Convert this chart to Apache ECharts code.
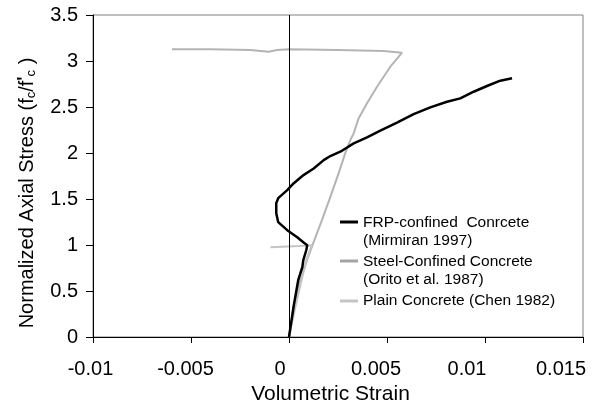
<!DOCTYPE html>
<html>
<head>
<meta charset="utf-8">
<script src="https://cdn.jsdelivr.net/npm/echarts@6/dist/echarts.min.js"></script>
<style>
  html, body { margin: 0; padding: 0; background: #fff; }
  #chart { width: 595px; height: 405px; }
</style>
</head>
<body>
<div id="chart"></div>
<script>
// Volumetric strain vs. normalized axial stress for three confinement cases
const seriesNames = [
  'FRP-confined  Conrcete\n(Mirmiran 1997)',
  'Steel-Confined Concrete\n(Orito et al. 1987)',
  'Plain Concrete (Chen 1982)'
];

// FRP-confined concrete (Mirmiran 1997): [volumetric strain, fc/f'c]
const frpStrain = [0, 0.00025, 0.00047, 0.00058, 0.00068, 0.00073, 0.00088, 0.00093, 0.00073, 0.00042, -0.00009, -0.00055, -0.00065, -0.00065, -0.00055, -0.00009, 0.00023, 0.00074, 0.00126, 0.00177, 0.00211, 0.0027, 0.0033, 0.00398, 0.00466, 0.00551, 0.00636, 0.00721, 0.00806, 0.00874, 0.00942, 0.0101, 0.01078, 0.01138];
const frpStress = [0, 0.35, 0.617, 0.693, 0.758, 0.835, 0.943, 0.998, 1.03, 1.085, 1.161, 1.248, 1.346, 1.455, 1.509, 1.596, 1.669, 1.76, 1.832, 1.923, 1.967, 2.024, 2.104, 2.17, 2.242, 2.329, 2.423, 2.496, 2.557, 2.594, 2.666, 2.728, 2.786, 2.812];

// Steel-confined concrete (Orito et al. 1987)
const steelStrain = [0, 0.00023, 0.00058, 0.00092, 0.00126, 0.00168, 0.00211, 0.00253, 0.00287, 0.00313, 0.0033, 0.00355, 0.00398, 0.00449, 0.00517, 0.00577, 0.00483, 0.00245, 0, -0.00061, -0.00104, -0.00197, -0.00402, -0.00597];
const steelStress = [0, 0.326, 0.617, 0.835, 1.034, 1.27, 1.523, 1.778, 1.999, 2.141, 2.213, 2.376, 2.54, 2.72, 2.938, 3.09, 3.109, 3.12, 3.127, 3.12, 3.101, 3.12, 3.127, 3.127];

// Plain concrete (Chen 1982)
const plainStrain = [0, 0.0003, 0.0006, 0.0009, 0.00117, 0.0005, -0.00095];
const plainStress = [0, 0.3, 0.58, 0.85, 0.998, 0.99, 0.976];

// Axis ticks
const xMin = -0.01, xMax = 0.015, xStep = 0.005;
const xTickLabels = ['-0.01', '-0.005', '0', '0.005', '0.01', '0.015'];
const yMin = 0, yMax = 3.5, yStep = 0.5;
const yTickLabels = ['0', '0.5', '1', '1.5', '2', '2.5', '3', '3.5'];

const pair = (xs, ys) => xs.map((x, i) => [x, ys[i]]);
const font = 'Liberation Sans, Arial, sans-serif';

// Strain labels sit slightly left of their ticks, drifting further left toward the right end
const xLabelNudge = [5, 11, 18, 22, 36, 44];
const xLabelRich = {};
xLabelNudge.forEach((p, i) => {
  xLabelRich['t' + i] = { fontFamily: font, fontSize: 20, color: '#000', padding: [0, p, 0, 0] };
});

// Legend key: short bar placed level with the first text line of each entry
const keyTopLine = 'path://M0,6.5H18V9.5H0Z M0,0 M0,36';
const keyMidLine = 'path://M0,16.5H18V19.5H0Z M0,0 M0,36';

function legendEntry(name, top, icon) {
  return {
    orient: 'vertical', left: 340, top: top, padding: 0,
    itemWidth: 18, itemHeight: 36, selectedMode: false,
    symbolKeepAspect: false,
    textStyle: { fontFamily: font, fontSize: 15.5, color: '#000', lineHeight: 18 },
    data: [{ name: name, icon: icon }]
  };
}

const chart = echarts.init(document.getElementById('chart'), null, { renderer: 'canvas' });

chart.setOption({
  backgroundColor: '#fff',
  animation: false,
  grid: {
    left: 93, right: 12, top: 15, bottom: 68,
    outerBoundsMode: 'none', containLabel: false,
    show: true, borderColor: '#808080', borderWidth: 1, backgroundColor: 'transparent'
  },
  xAxis: {
    type: 'value', min: xMin, max: xMax, interval: xStep,
    name: 'Volumetric Strain', nameLocation: 'middle', nameGap: 45,
    nameTextStyle: { fontFamily: font, fontSize: 21, color: '#000', padding: [0, 15, 0, 0] },
    axisLine: { show: true, onZero: false, lineStyle: { color: '#000', width: 1 } },
    axisTick: { show: true, inside: false, length: 6, lineStyle: { color: '#000' } },
    axisLabel: {
      fontFamily: font, fontSize: 20, color: '#000', margin: 22,
      hideOverlap: false, showMinLabel: true, showMaxLabel: true,
      formatter: v => {
        const i = Math.round((v - xMin) / xStep);
        return '{t' + i + '|' + xTickLabels[i] + '}';
      },
      rich: xLabelRich
    },
    splitLine: { show: false }
  },
  yAxis: {
    type: 'value', min: yMin, max: yMax, interval: yStep,
    name: "Normalized Axial Stress (f{sub|c}/f{sup|'}{sub|c} )",
    nameLocation: 'middle', nameGap: 55,
    nameTextStyle: {
      fontFamily: font, fontSize: 20, color: '#000', lineHeight: 22,
      padding: [0, 34, 0, 0],
      rich: {
        sub: { fontFamily: font, fontSize: 13, color: '#000', verticalAlign: 'bottom', lineHeight: 22 },
        sup: { fontFamily: font, fontSize: 18, fontWeight: 'bold', color: '#000', verticalAlign: 'top', lineHeight: 22 }
      }
    },
    axisLine: { show: true, onZero: false, lineStyle: { color: '#000', width: 1 } },
    axisTick: { show: true, inside: false, length: 7, lineStyle: { color: '#000' } },
    axisLabel: {
      fontFamily: font, fontSize: 20, color: '#000', margin: 15,
      formatter: v => yTickLabels[Math.round((v - yMin) / yStep)]
    },
    splitLine: { show: false }
  },
  legend: [
    legendEntry(seriesNames[0], 214, keyTopLine),
    legendEntry(seriesNames[1], 253, keyTopLine),
    legendEntry(seriesNames[2], 283, keyMidLine)
  ],
  series: [
    {
      name: seriesNames[0], type: 'line', data: pair(frpStrain, frpStress),
      showSymbol: false, symbol: 'none', smooth: false, z: 3,
      color: '#000', lineStyle: { color: '#000', width: 2.5 },
      markLine: {
        silent: true, symbol: 'none', label: { show: false },
        lineStyle: { color: '#000', width: 1, type: 'solid' },
        data: [{ xAxis: 0 }]
      }
    },
    {
      name: seriesNames[1], type: 'line', data: pair(steelStrain, steelStress),
      showSymbol: false, symbol: 'none', smooth: false, z: 2,
      color: '#a4a4a4', lineStyle: { color: '#b4b4b4', width: 2 }
    },
    {
      name: seriesNames[2], type: 'line', data: pair(plainStrain, plainStress),
      showSymbol: false, symbol: 'none', smooth: false, z: 2,
      color: '#c4c4c4', lineStyle: { color: '#c4c4c4', width: 2 }
    }
  ]
});
</script>
</body>
</html>
